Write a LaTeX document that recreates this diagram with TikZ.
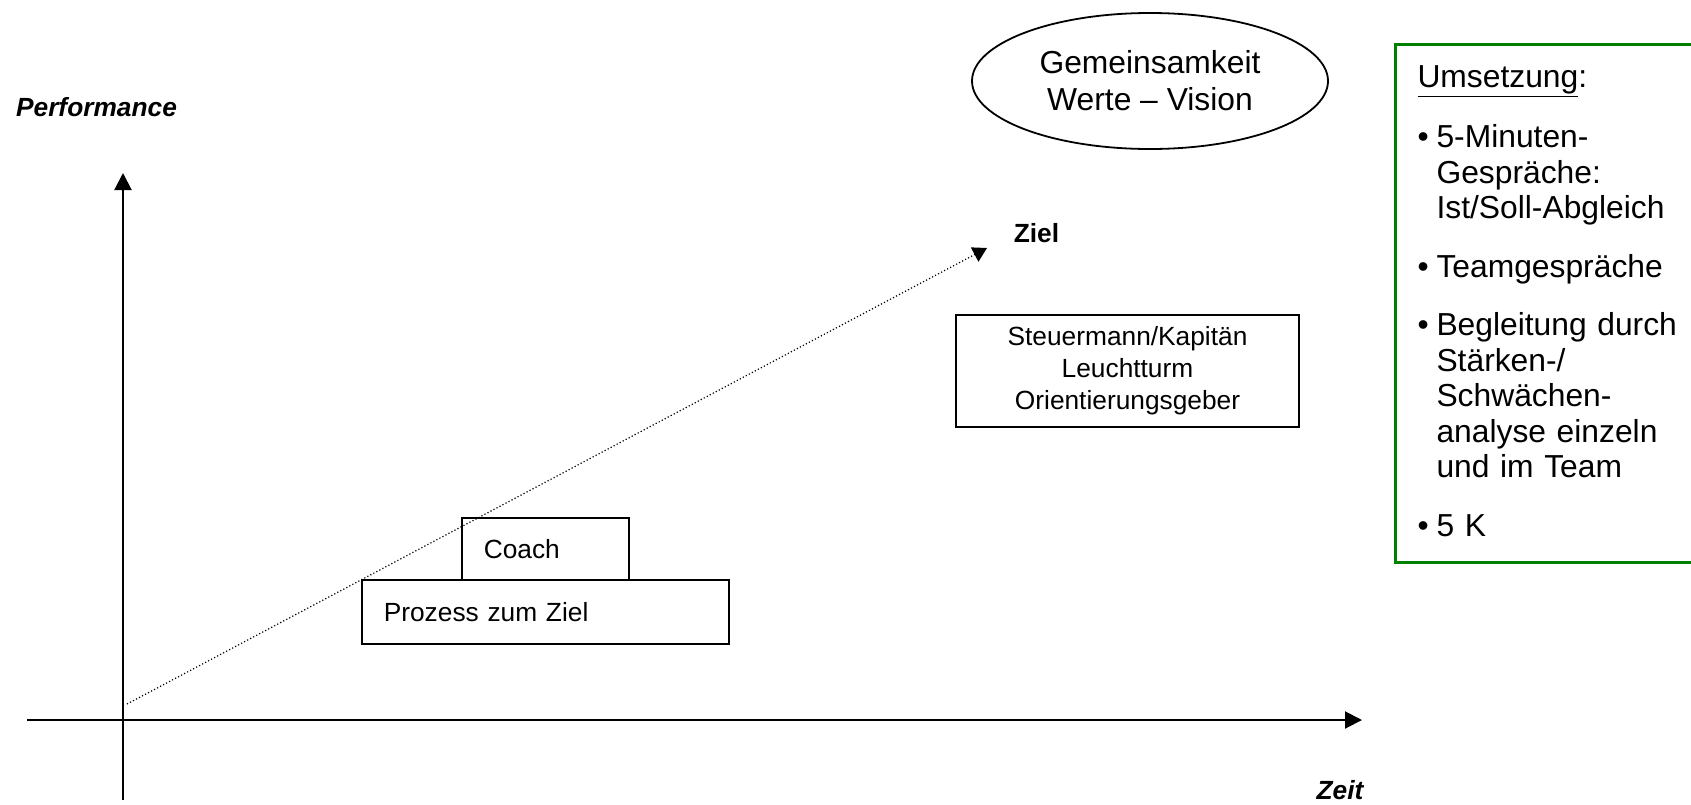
\documentclass[tikz,border=0pt]{standalone}
\usepackage{fontspec}
\setmainfont{Liberation Sans}
\usetikzlibrary{arrows.meta,shapes.geometric}

\definecolor{umsgreen}{RGB}{0,128,0}
\newcommand{\smallfont}{\fontsize{13.15pt}{16pt}\selectfont}
\newcommand{\bigfont}{\fontsize{15.9pt}{18.5pt}\selectfont}
\newcommand{\umsbul}{\makebox[9.5pt][l]{\textbullet}}
\newcommand{\umsind}{\hspace*{9.5pt}}

\begin{document}
\begin{tikzpicture}
  [x=0.5pt,y=-0.5pt,
   axis/.style={line width=1pt,-{Triangle[length=8.5pt,width=8.5pt]}},
   trend/.style={line width=0.6pt,dash pattern=on 0.6pt off 1.1pt,
     -{Triangle[length=7pt,width=8pt]}},
   axislabel/.style={font=\smallfont\bfseries\itshape,inner sep=0pt},
   rolebox/.style={draw,line width=0.8pt,rectangle,font=\smallfont,inner sep=0pt},
   stepbox/.style={rolebox,anchor=north west,align=left,inner xsep=11pt}]
  \useasboundingbox (0,0) rectangle (1691,804);

  % axes
  \coordinate (ybot)   at (123,800);
  \coordinate (ytop)   at (123,173);
  \coordinate (xleft)  at (27,720);
  \coordinate (xright) at (1362,720);
  \draw[axis] (ybot) -- (ytop);
  \draw[axis] (xleft) -- (xright);
  \node[axislabel] (perf) at (96.5,107) {Performance};
  \node[axislabel] (zeit) at (1340,790) {Zeit};

  % way to the goal
  \coordinate (start)  at (127,704);
  \coordinate (zielpt) at (987,248);
  \node[font=\smallfont\bfseries,inner sep=0pt] (ziel) at (1036.5,233) {Ziel};
  \draw[trend] (start) -- (zielpt);

  \node[stepbox,minimum height=32pt,text width=161.5pt] (prozess) at (361,579) {Prozess zum Ziel};
  \node[stepbox,minimum height=31pt,text width=61.5pt] (coach) at (461,517) {Coach};

  \node[rolebox,align=center,minimum width=171.5pt,minimum height=56pt] (kapitaen) at (1127.5,371)
    {Steuermann/Kapitän\\Leuchtturm\\Orientierungsgeber};

  \node[draw,ellipse,line width=0.9pt,inner sep=0pt,minimum width=178pt,minimum height=68pt,
    font=\bigfont,align=center] (vision) at (1150,81) {Gemeinsamkeit\\Werte -- Vision};

  % Umsetzung
  \node[draw=umsgreen,line width=1.5pt,anchor=north west,align=left,text width=132pt,
    inner xsep=11pt,inner ysep=10.5pt,font=\fontsize{15.9pt}{17.75pt}\selectfont] (ums) at (1394,43)
    {\underline{Umsetzung}:\\[12.5pt]
     \umsbul 5-Minuten-\\ \umsind Gespräche:\\ \umsind Ist/Soll-Abgleich\\[11.5pt]
     \umsbul Teamgespräche\\[11.5pt]
     \umsbul Begleitung durch\\ \umsind Stärken-/\\ \umsind Schwächen-\\
     \umsind analyse einzeln\\ \umsind und im Team\\[11.5pt]
     \umsbul 5 K\rule[-2.5pt]{0pt}{0pt}};

\end{tikzpicture}
\end{document}
